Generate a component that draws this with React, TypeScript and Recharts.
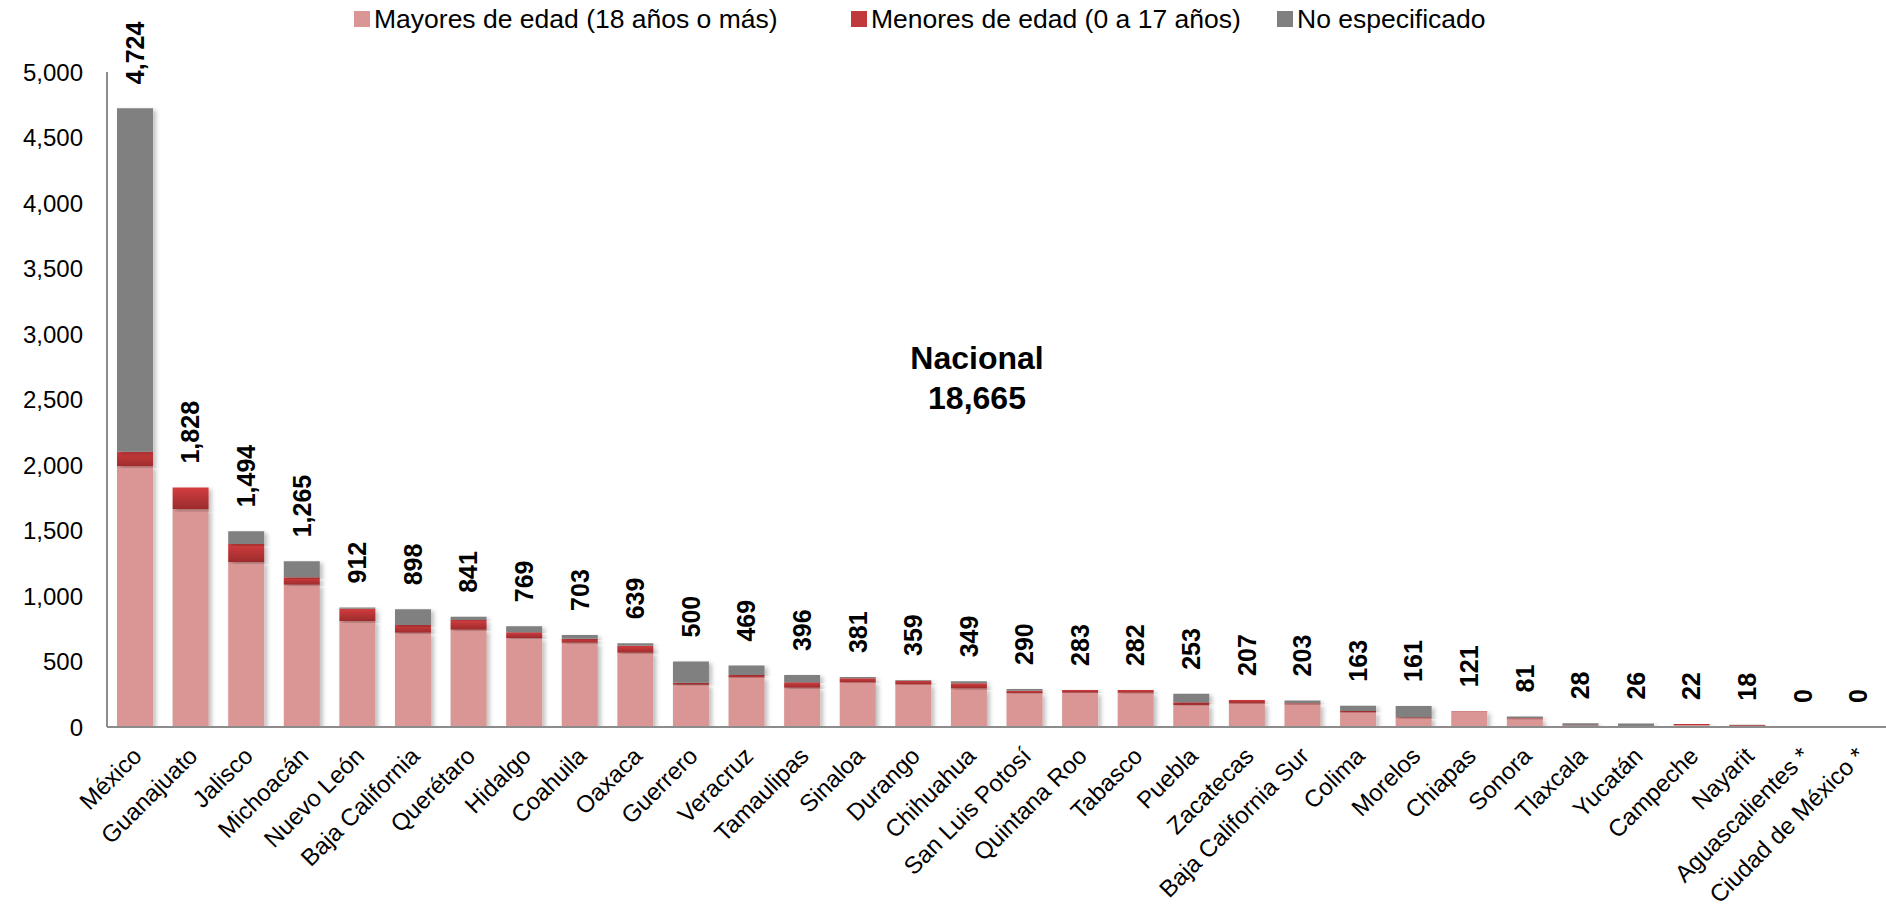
import React from 'react';
import { ComposedChart, Bar, Line, XAxis, YAxis, LabelList } from 'recharts';

const estados = [
  'México', 'Guanajuato', 'Jalisco', 'Michoacán', 'Nuevo León', 'Baja California', 'Querétaro', 'Hidalgo',
  'Coahuila', 'Oaxaca', 'Guerrero', 'Veracruz', 'Tamaulipas', 'Sinaloa', 'Durango', 'Chihuahua',
  'San Luis Potosí', 'Quintana Roo', 'Tabasco', 'Puebla', 'Zacatecas', 'Baja California Sur', 'Colima', 'Morelos',
  'Chiapas', 'Sonora', 'Tlaxcala', 'Yucatán', 'Campeche', 'Nayarit', 'Aguascalientes *', 'Ciudad de México *',
];
const mayores = [1990, 1665, 1260, 1085, 810, 720, 742, 680, 643, 566, 322, 377, 300, 340, 325, 294, 257, 262, 261, 168, 180, 172, 110, 72, 117, 60, 8, 2, 16, 10, 0, 0];
const menores = [112, 163, 137, 58, 92, 59, 75, 43, 30, 55, 15, 20, 42, 33, 28, 40, 20, 21, 21, 20, 27, 10, 13, 4, 4, 6, 4, 0, 6, 5, 0, 0];
const noEspecificado = [2622, 0, 97, 122, 10, 119, 24, 46, 30, 18, 163, 72, 54, 8, 6, 15, 13, 0, 0, 65, 0, 21, 40, 85, 0, 15, 16, 24, 0, 3, 0, 0];
const totales = [4724, 1828, 1494, 1265, 912, 898, 841, 769, 703, 639, 500, 469, 396, 381, 359, 349, 290, 283, 282, 253, 207, 203, 163, 161, 121, 81, 28, 26, 22, 18, 0, 0];
const yTicks = [0, 500, 1000, 1500, 2000, 2500, 3000, 3500, 4000, 4500, 5000];
const nacional = '18,665';

const data = estados.map((estado, i) => ({
  estado,
  mayores: mayores[i],
  menores: menores[i],
  noEsp: noEspecificado[i],
  total: totales[i],
}));

const FONT = '"Liberation Sans", Arial, sans-serif';
const fmt = (v: number) => v.toLocaleString('en-US');

const CategoryTick = (props: any) => {
  const { x, y, payload } = props;
  const tx = x - 4;
  const ty = y + 10;
  return (
    <text
      x={tx}
      y={ty}
      transform={`rotate(-45, ${tx}, ${ty})`}
      textAnchor="end"
      dominantBaseline="hanging"
      fontSize={24}
      fontFamily={FONT}
      fill="#000"
    >
      {payload.value}
    </text>
  );
};

// etiqueta del total, vertical, arriba de cada barra
const TotalLabel = (props: any) => {
  const { x, y, value } = props;
  const cx = x;
  const cy = y - 24;
  return (
    <text
      x={cx}
      y={cy}
      transform={`rotate(-90, ${cx}, ${cy})`}
      textAnchor="start"
      dominantBaseline="central"
      fontSize={25}
      fontWeight="bold"
      fontFamily={FONT}
      fill="#000"
    >
      {fmt(value)}
    </text>
  );
};

const legendItems = [
  { label: 'Mayores de edad (18 años o más)', color: '#d99694', left: 354 },
  { label: 'Menores de edad (0 a 17 años)', color: '#c0393b', left: 851 },
  { label: 'No especificado', color: '#808080', left: 1277 },
];

export default function App() {
  return (
    <div style={{ position: 'absolute', left: 0, top: 0, width: 1886, height: 916, background: '#fff' }}>
      <ComposedChart
        width={1886}
        height={916}
        data={data}
        margin={{ top: 72, right: 0, bottom: 0, left: 0 }}
        barCategoryGap="18%"
      >
        <defs>
          <linearGradient id="rojoGrad" x1="0" y1="0" x2="0" y2="1">
            <stop offset="0%" stopColor="#d23d3f" />
            <stop offset="100%" stopColor="#9c2b2c" />
          </linearGradient>
          <filter id="sombra" x="-20%" y="-5%" width="150%" height="115%">
            <feDropShadow dx="3" dy="2" stdDeviation="2" floodColor="#000" floodOpacity="0.25" />
          </filter>
        </defs>
        <XAxis
          dataKey="estado"
          interval={0}
          height={189}
          tickLine={false}
          axisLine={{ stroke: '#8c8c8c', strokeWidth: 2 }}
          tick={<CategoryTick />}
        />
        <YAxis
          width={107}
          domain={[0, 5000]}
          ticks={yTicks}
          tickFormatter={fmt}
          tickLine={false}
          tickSize={0}
          tickMargin={24}
          axisLine={{ stroke: '#8c8c8c', strokeWidth: 2 }}
          tick={{ fontSize: 24, fontFamily: FONT, fill: '#000' }}
          allowDataOverflow
        />
        <Bar dataKey="mayores" stackId="a" fill="#d99694" filter="url(#sombra)" isAnimationActive={false} />
        <Bar dataKey="menores" stackId="a" fill="url(#rojoGrad)" filter="url(#sombra)" isAnimationActive={false} />
        <Bar dataKey="noEsp" stackId="a" fill="#808080" filter="url(#sombra)" isAnimationActive={false} />
        <Line dataKey="total" stroke="none" dot={false} activeDot={false} isAnimationActive={false}>
          <LabelList dataKey="total" content={<TotalLabel />} />
        </Line>
      </ComposedChart>
      {legendItems.map(it => (
        <div
          key={it.label}
          style={{
            position: 'absolute',
            left: it.left,
            top: 4,
            display: 'flex',
            alignItems: 'center',
            whiteSpace: 'nowrap',
            fontFamily: FONT,
            fontSize: 26.5,
            lineHeight: '30px',
            color: '#000',
          }}
        >
          <span style={{ width: 16, height: 16, background: it.color, display: 'inline-block', marginRight: 4 }} />
          <span>{it.label}</span>
        </div>
      ))}
      <div
        style={{
          position: 'absolute',
          left: 977,
          top: 338,
          transform: 'translateX(-50%)',
          textAlign: 'center',
          fontFamily: FONT,
          fontWeight: 'bold',
          fontSize: 32,
          lineHeight: '40px',
          color: '#000',
        }}
      >
        Nacional
        <br />
        {nacional}
      </div>
    </div>
  );
}
